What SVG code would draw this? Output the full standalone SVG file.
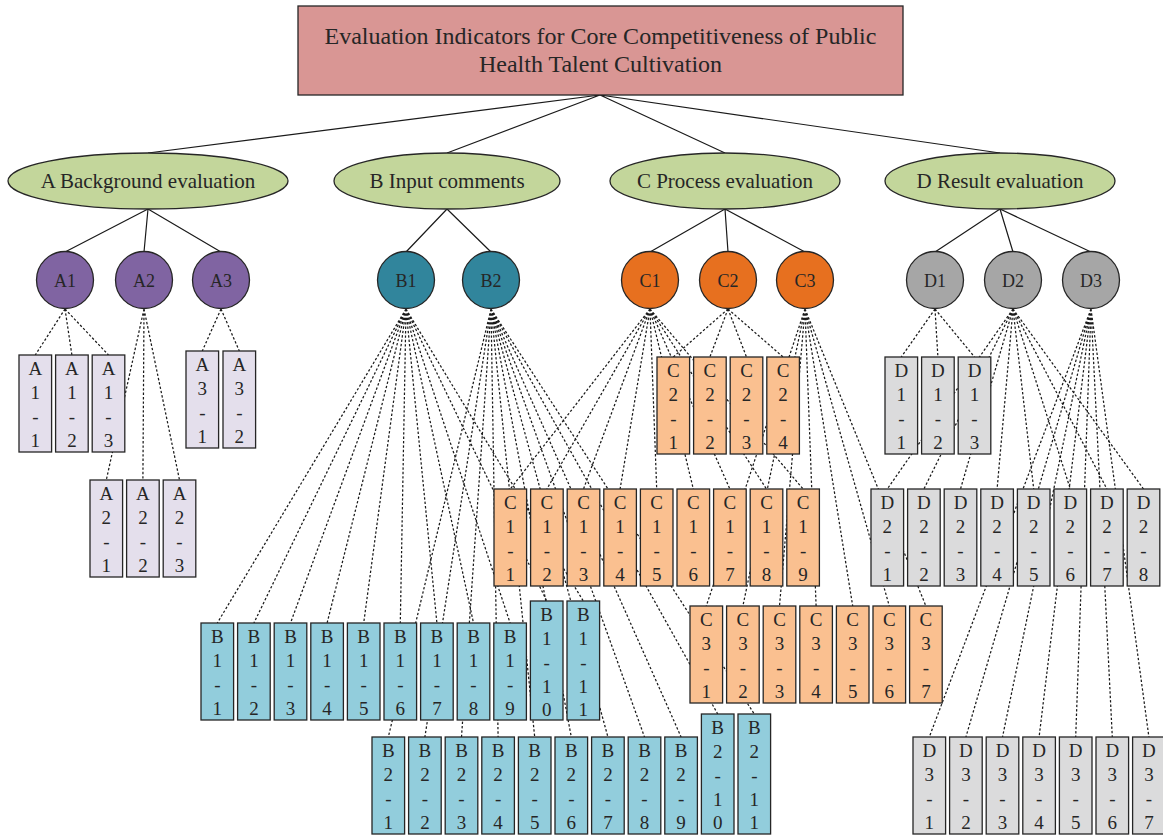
<svg xmlns="http://www.w3.org/2000/svg" width="1163" height="837" viewBox="0 0 1163 837">
<style>
text{font-family:"Liberation Serif","Times New Roman",serif;fill:#262626;text-anchor:middle}
.sol{stroke:#1a1a1a;stroke-width:1.2;fill:none}
.d{stroke:#1a1a1a;stroke-width:1.25;fill:none;stroke-dasharray:2.4 2}
.st{stroke:#262626;stroke-width:1.3}
.ti{fill:#d99694}
.el{fill:#c3d69b}
.ca{fill:#8064a2}.cb{fill:#31859c}.cc{fill:#e7701f}.cd{fill:#a6a6a6}
.ra{fill:#e4dfec}.rb{fill:#92cddc}.rc{fill:#fac090}.rd{fill:#dbdbdc}
.t1{font-size:24px}.t2{font-size:21px}.t3{font-size:18px}.t4{font-size:19px}
</style>
<rect width="1163" height="837" fill="#fff"/>
<g id="connectors">
<path class="sol" d="M600,95L148,153M600,95L447,153M600,95L725,153M600,95L1000,153"/>
<path class="sol" d="M148,209L65,252M148,209L144,252M148,209L221,252M447,209L406,252M447,209L491,252M725,209L650,252M725,209L728,252M725,209L805,252M1000,209L935,252M1000,209L1013,252M1000,209L1091,252"/>
<path class="d" d="M65,309L35.3,355M65,309L71.9,355M65,309L108.5,355"/>
<path class="d" d="M144,309L106.3,480M144,309L142.9,480M144,309L179.5,480"/>
<path class="d" d="M221,309L202.3,351M221,309L239.3,351"/>
<path class="d" d="M406,309L217.3,623M406,309L253.9,623M406,309L290.5,623M406,309L327.1,623M406,309L363.7,623M406,309L400.3,623M406,309L436.9,623M406,309L473.5,623M406,309L510.1,623M406,309L546.7,601M406,309L583.3,601"/>
<path class="d" d="M491,309L388.3,737M491,309L424.9,737M491,309L461.5,737M491,309L498.1,737M491,309L534.7,737M491,309L571.3,737M491,309L607.9,737M491,309L644.5,737M491,309L681.1,737M491,309L717.7,714M491,309L754.3,714"/>
<path class="d" d="M650,309L510.3,489M650,309L546.9,489M650,309L583.5,489M650,309L620.1,489M650,309L656.7,489M650,309L693.3,489M650,309L729.9,489M650,309L766.5,489M650,309L803.1,489"/>
<path class="d" d="M728,309L673.3,357M728,309L709.9,357M728,309L746.5,357M728,309L783.1,357"/>
<path class="d" d="M805,309L706.3,606M805,309L742.9,606M805,309L779.5,606M805,309L816.1,606M805,309L852.7,606M805,309L889.3,606M805,309L925.9,606"/>
<path class="d" d="M935,309L901.3,357M935,309L937.9,357M935,309L974.5,357"/>
<path class="d" d="M1013,309L887.3,489M1013,309L923.9,489M1013,309L960.5,489M1013,309L997.1,489M1013,309L1033.7,489M1013,309L1070.3,489M1013,309L1106.9,489M1013,309L1143.5,489"/>
<path class="d" d="M1091,309L929.3,737M1091,309L965.9,737M1091,309L1002.5,737M1091,309L1039.1,737M1091,309L1075.7,737M1091,309L1112.3,737M1091,309L1148.9,737"/>
</g>
<g id="root"><rect class="ti st" x="298" y="6" width="605" height="89"/><text class="t1" x="600.5" y="44">Evaluation Indicators for Core Competitiveness of Public</text><text class="t1" x="600.5" y="72">Health Talent Cultivation</text></g>
<g id="A"><ellipse class="el st" cx="148" cy="181" rx="140" ry="28"/><text class="t2" x="148" y="188">A Background evaluation</text></g>
<g id="B"><ellipse class="el st" cx="447" cy="181" rx="113" ry="28"/><text class="t2" x="447" y="188">B Input comments</text></g>
<g id="C"><ellipse class="el st" cx="725" cy="181" rx="115" ry="28"/><text class="t2" x="725" y="188">C Process evaluation</text></g>
<g id="D"><ellipse class="el st" cx="1000" cy="181" rx="115" ry="28"/><text class="t2" x="1000" y="188">D Result evaluation</text></g>
<g id="A1"><circle class="ca st" cx="65" cy="280" r="28.5"/><text class="t3" x="65" y="286.5">A1</text></g>
<g id="A2"><circle class="ca st" cx="144" cy="280" r="28.5"/><text class="t3" x="144" y="286.5">A2</text></g>
<g id="A3"><circle class="ca st" cx="221" cy="280" r="28.5"/><text class="t3" x="221" y="286.5">A3</text></g>
<g id="B1"><circle class="cb st" cx="406" cy="280" r="28.5"/><text class="t3" x="406" y="286.5">B1</text></g>
<g id="B2"><circle class="cb st" cx="491" cy="280" r="28.5"/><text class="t3" x="491" y="286.5">B2</text></g>
<g id="C1"><circle class="cc st" cx="650" cy="280" r="28.5"/><text class="t3" x="650" y="286.5">C1</text></g>
<g id="C2"><circle class="cc st" cx="728" cy="280" r="28.5"/><text class="t3" x="728" y="286.5">C2</text></g>
<g id="C3"><circle class="cc st" cx="805" cy="280" r="28.5"/><text class="t3" x="805" y="286.5">C3</text></g>
<g id="D1"><circle class="cd st" cx="935" cy="280" r="28.5"/><text class="t3" x="935" y="286.5">D1</text></g>
<g id="D2"><circle class="cd st" cx="1013" cy="280" r="28.5"/><text class="t3" x="1013" y="286.5">D2</text></g>
<g id="D3"><circle class="cd st" cx="1091" cy="280" r="28.5"/><text class="t3" x="1091" y="286.5">D3</text></g>

<g id="A1-1"><rect class="ra st" x="19" y="355" width="32.6" height="97"/><text class="t4" y="375"><tspan x="35.3">A</tspan><tspan x="35.3" dy="24">1</tspan><tspan x="35.3" dy="24">-</tspan><tspan x="35.3" dy="24">1</tspan></text></g>
<g id="A1-2"><rect class="ra st" x="55.6" y="355" width="32.6" height="97"/><text class="t4" y="375"><tspan x="71.9">A</tspan><tspan x="71.9" dy="24">1</tspan><tspan x="71.9" dy="24">-</tspan><tspan x="71.9" dy="24">2</tspan></text></g>
<g id="A1-3"><rect class="ra st" x="92.2" y="355" width="32.6" height="97"/><text class="t4" y="375"><tspan x="108.5">A</tspan><tspan x="108.5" dy="24">1</tspan><tspan x="108.5" dy="24">-</tspan><tspan x="108.5" dy="24">3</tspan></text></g>
<g id="A2-1"><rect class="ra st" x="90" y="480" width="32.6" height="97"/><text class="t4" y="500"><tspan x="106.3">A</tspan><tspan x="106.3" dy="24">2</tspan><tspan x="106.3" dy="24">-</tspan><tspan x="106.3" dy="24">1</tspan></text></g>
<g id="A2-2"><rect class="ra st" x="126.6" y="480" width="32.6" height="97"/><text class="t4" y="500"><tspan x="142.9">A</tspan><tspan x="142.9" dy="24">2</tspan><tspan x="142.9" dy="24">-</tspan><tspan x="142.9" dy="24">2</tspan></text></g>
<g id="A2-3"><rect class="ra st" x="163.2" y="480" width="32.6" height="97"/><text class="t4" y="500"><tspan x="179.5">A</tspan><tspan x="179.5" dy="24">2</tspan><tspan x="179.5" dy="24">-</tspan><tspan x="179.5" dy="24">3</tspan></text></g>
<g id="A3-1"><rect class="ra st" x="186" y="351" width="32.6" height="97"/><text class="t4" y="371"><tspan x="202.3">A</tspan><tspan x="202.3" dy="24">3</tspan><tspan x="202.3" dy="24">-</tspan><tspan x="202.3" dy="24">1</tspan></text></g>
<g id="A3-2"><rect class="ra st" x="223" y="351" width="32.6" height="97"/><text class="t4" y="371"><tspan x="239.3">A</tspan><tspan x="239.3" dy="24">3</tspan><tspan x="239.3" dy="24">-</tspan><tspan x="239.3" dy="24">2</tspan></text></g>

<g id="B1-1"><rect class="rb st" x="201" y="623" width="32.6" height="97"/><text class="t4" y="643"><tspan x="217.3">B</tspan><tspan x="217.3" dy="24">1</tspan><tspan x="217.3" dy="24">-</tspan><tspan x="217.3" dy="24">1</tspan></text></g>
<g id="B1-2"><rect class="rb st" x="237.6" y="623" width="32.6" height="97"/><text class="t4" y="643"><tspan x="253.9">B</tspan><tspan x="253.9" dy="24">1</tspan><tspan x="253.9" dy="24">-</tspan><tspan x="253.9" dy="24">2</tspan></text></g>
<g id="B1-3"><rect class="rb st" x="274.2" y="623" width="32.6" height="97"/><text class="t4" y="643"><tspan x="290.5">B</tspan><tspan x="290.5" dy="24">1</tspan><tspan x="290.5" dy="24">-</tspan><tspan x="290.5" dy="24">3</tspan></text></g>
<g id="B1-4"><rect class="rb st" x="310.8" y="623" width="32.6" height="97"/><text class="t4" y="643"><tspan x="327.1">B</tspan><tspan x="327.1" dy="24">1</tspan><tspan x="327.1" dy="24">-</tspan><tspan x="327.1" dy="24">4</tspan></text></g>
<g id="B1-5"><rect class="rb st" x="347.4" y="623" width="32.6" height="97"/><text class="t4" y="643"><tspan x="363.7">B</tspan><tspan x="363.7" dy="24">1</tspan><tspan x="363.7" dy="24">-</tspan><tspan x="363.7" dy="24">5</tspan></text></g>
<g id="B1-6"><rect class="rb st" x="384" y="623" width="32.6" height="97"/><text class="t4" y="643"><tspan x="400.3">B</tspan><tspan x="400.3" dy="24">1</tspan><tspan x="400.3" dy="24">-</tspan><tspan x="400.3" dy="24">6</tspan></text></g>
<g id="B1-7"><rect class="rb st" x="420.6" y="623" width="32.6" height="97"/><text class="t4" y="643"><tspan x="436.9">B</tspan><tspan x="436.9" dy="24">1</tspan><tspan x="436.9" dy="24">-</tspan><tspan x="436.9" dy="24">7</tspan></text></g>
<g id="B1-8"><rect class="rb st" x="457.2" y="623" width="32.6" height="97"/><text class="t4" y="643"><tspan x="473.5">B</tspan><tspan x="473.5" dy="24">1</tspan><tspan x="473.5" dy="24">-</tspan><tspan x="473.5" dy="24">8</tspan></text></g>
<g id="B1-9"><rect class="rb st" x="493.8" y="623" width="32.6" height="97"/><text class="t4" y="643"><tspan x="510.1">B</tspan><tspan x="510.1" dy="24">1</tspan><tspan x="510.1" dy="24">-</tspan><tspan x="510.1" dy="24">9</tspan></text></g>
<g id="B1-10"><rect class="rb st" x="530.4" y="601" width="32.6" height="119"/><text class="t4" y="621"><tspan x="546.7">B</tspan><tspan x="546.7" dy="24">1</tspan><tspan x="546.7" dy="24">-</tspan><tspan x="546.7" dy="24">1</tspan><tspan x="546.7" dy="23">0</tspan></text></g>
<g id="B1-11"><rect class="rb st" x="567" y="601" width="32.6" height="119"/><text class="t4" y="621"><tspan x="583.3">B</tspan><tspan x="583.3" dy="24">1</tspan><tspan x="583.3" dy="24">-</tspan><tspan x="583.3" dy="24">1</tspan><tspan x="583.3" dy="23">1</tspan></text></g>

<g id="B2-1"><rect class="rb st" x="372" y="737" width="32.6" height="97"/><text class="t4" y="757"><tspan x="388.3">B</tspan><tspan x="388.3" dy="24">2</tspan><tspan x="388.3" dy="24">-</tspan><tspan x="388.3" dy="24">1</tspan></text></g>
<g id="B2-2"><rect class="rb st" x="408.6" y="737" width="32.6" height="97"/><text class="t4" y="757"><tspan x="424.9">B</tspan><tspan x="424.9" dy="24">2</tspan><tspan x="424.9" dy="24">-</tspan><tspan x="424.9" dy="24">2</tspan></text></g>
<g id="B2-3"><rect class="rb st" x="445.2" y="737" width="32.6" height="97"/><text class="t4" y="757"><tspan x="461.5">B</tspan><tspan x="461.5" dy="24">2</tspan><tspan x="461.5" dy="24">-</tspan><tspan x="461.5" dy="24">3</tspan></text></g>
<g id="B2-4"><rect class="rb st" x="481.8" y="737" width="32.6" height="97"/><text class="t4" y="757"><tspan x="498.1">B</tspan><tspan x="498.1" dy="24">2</tspan><tspan x="498.1" dy="24">-</tspan><tspan x="498.1" dy="24">4</tspan></text></g>
<g id="B2-5"><rect class="rb st" x="518.4" y="737" width="32.6" height="97"/><text class="t4" y="757"><tspan x="534.7">B</tspan><tspan x="534.7" dy="24">2</tspan><tspan x="534.7" dy="24">-</tspan><tspan x="534.7" dy="24">5</tspan></text></g>
<g id="B2-6"><rect class="rb st" x="555" y="737" width="32.6" height="97"/><text class="t4" y="757"><tspan x="571.3">B</tspan><tspan x="571.3" dy="24">2</tspan><tspan x="571.3" dy="24">-</tspan><tspan x="571.3" dy="24">6</tspan></text></g>
<g id="B2-7"><rect class="rb st" x="591.6" y="737" width="32.6" height="97"/><text class="t4" y="757"><tspan x="607.9">B</tspan><tspan x="607.9" dy="24">2</tspan><tspan x="607.9" dy="24">-</tspan><tspan x="607.9" dy="24">7</tspan></text></g>
<g id="B2-8"><rect class="rb st" x="628.2" y="737" width="32.6" height="97"/><text class="t4" y="757"><tspan x="644.5">B</tspan><tspan x="644.5" dy="24">2</tspan><tspan x="644.5" dy="24">-</tspan><tspan x="644.5" dy="24">8</tspan></text></g>
<g id="B2-9"><rect class="rb st" x="664.8" y="737" width="32.6" height="97"/><text class="t4" y="757"><tspan x="681.1">B</tspan><tspan x="681.1" dy="24">2</tspan><tspan x="681.1" dy="24">-</tspan><tspan x="681.1" dy="24">9</tspan></text></g>
<g id="B2-10"><rect class="rb st" x="701.4" y="714" width="32.6" height="120"/><text class="t4" y="734"><tspan x="717.7">B</tspan><tspan x="717.7" dy="24">2</tspan><tspan x="717.7" dy="24">-</tspan><tspan x="717.7" dy="24">1</tspan><tspan x="717.7" dy="23">0</tspan></text></g>
<g id="B2-11"><rect class="rb st" x="738" y="714" width="32.6" height="120"/><text class="t4" y="734"><tspan x="754.3">B</tspan><tspan x="754.3" dy="24">2</tspan><tspan x="754.3" dy="24">-</tspan><tspan x="754.3" dy="24">1</tspan><tspan x="754.3" dy="23">1</tspan></text></g>

<g id="C1-1"><rect class="rc st" x="494" y="489" width="32.6" height="97"/><text class="t4" y="509"><tspan x="510.3">C</tspan><tspan x="510.3" dy="24">1</tspan><tspan x="510.3" dy="24">-</tspan><tspan x="510.3" dy="24">1</tspan></text></g>
<g id="C1-2"><rect class="rc st" x="530.6" y="489" width="32.6" height="97"/><text class="t4" y="509"><tspan x="546.9">C</tspan><tspan x="546.9" dy="24">1</tspan><tspan x="546.9" dy="24">-</tspan><tspan x="546.9" dy="24">2</tspan></text></g>
<g id="C1-3"><rect class="rc st" x="567.2" y="489" width="32.6" height="97"/><text class="t4" y="509"><tspan x="583.5">C</tspan><tspan x="583.5" dy="24">1</tspan><tspan x="583.5" dy="24">-</tspan><tspan x="583.5" dy="24">3</tspan></text></g>
<g id="C1-4"><rect class="rc st" x="603.8" y="489" width="32.6" height="97"/><text class="t4" y="509"><tspan x="620.1">C</tspan><tspan x="620.1" dy="24">1</tspan><tspan x="620.1" dy="24">-</tspan><tspan x="620.1" dy="24">4</tspan></text></g>
<g id="C1-5"><rect class="rc st" x="640.4" y="489" width="32.6" height="97"/><text class="t4" y="509"><tspan x="656.7">C</tspan><tspan x="656.7" dy="24">1</tspan><tspan x="656.7" dy="24">-</tspan><tspan x="656.7" dy="24">5</tspan></text></g>
<g id="C1-6"><rect class="rc st" x="677" y="489" width="32.6" height="97"/><text class="t4" y="509"><tspan x="693.3">C</tspan><tspan x="693.3" dy="24">1</tspan><tspan x="693.3" dy="24">-</tspan><tspan x="693.3" dy="24">6</tspan></text></g>
<g id="C1-7"><rect class="rc st" x="713.6" y="489" width="32.6" height="97"/><text class="t4" y="509"><tspan x="729.9">C</tspan><tspan x="729.9" dy="24">1</tspan><tspan x="729.9" dy="24">-</tspan><tspan x="729.9" dy="24">7</tspan></text></g>
<g id="C1-8"><rect class="rc st" x="750.2" y="489" width="32.6" height="97"/><text class="t4" y="509"><tspan x="766.5">C</tspan><tspan x="766.5" dy="24">1</tspan><tspan x="766.5" dy="24">-</tspan><tspan x="766.5" dy="24">8</tspan></text></g>
<g id="C1-9"><rect class="rc st" x="786.8" y="489" width="32.6" height="97"/><text class="t4" y="509"><tspan x="803.1">C</tspan><tspan x="803.1" dy="24">1</tspan><tspan x="803.1" dy="24">-</tspan><tspan x="803.1" dy="24">9</tspan></text></g>

<g id="C2-1"><rect class="rc st" x="657" y="357" width="32.6" height="97"/><text class="t4" y="377"><tspan x="673.3">C</tspan><tspan x="673.3" dy="24">2</tspan><tspan x="673.3" dy="24">-</tspan><tspan x="673.3" dy="24">1</tspan></text></g>
<g id="C2-2"><rect class="rc st" x="693.6" y="357" width="32.6" height="97"/><text class="t4" y="377"><tspan x="709.9">C</tspan><tspan x="709.9" dy="24">2</tspan><tspan x="709.9" dy="24">-</tspan><tspan x="709.9" dy="24">2</tspan></text></g>
<g id="C2-3"><rect class="rc st" x="730.2" y="357" width="32.6" height="97"/><text class="t4" y="377"><tspan x="746.5">C</tspan><tspan x="746.5" dy="24">2</tspan><tspan x="746.5" dy="24">-</tspan><tspan x="746.5" dy="24">3</tspan></text></g>
<g id="C2-4"><rect class="rc st" x="766.8" y="357" width="32.6" height="97"/><text class="t4" y="377"><tspan x="783.1">C</tspan><tspan x="783.1" dy="24">2</tspan><tspan x="783.1" dy="24">-</tspan><tspan x="783.1" dy="24">4</tspan></text></g>

<g id="C3-1"><rect class="rc st" x="690" y="606" width="32.6" height="97"/><text class="t4" y="626"><tspan x="706.3">C</tspan><tspan x="706.3" dy="24">3</tspan><tspan x="706.3" dy="24">-</tspan><tspan x="706.3" dy="24">1</tspan></text></g>
<g id="C3-2"><rect class="rc st" x="726.6" y="606" width="32.6" height="97"/><text class="t4" y="626"><tspan x="742.9">C</tspan><tspan x="742.9" dy="24">3</tspan><tspan x="742.9" dy="24">-</tspan><tspan x="742.9" dy="24">2</tspan></text></g>
<g id="C3-3"><rect class="rc st" x="763.2" y="606" width="32.6" height="97"/><text class="t4" y="626"><tspan x="779.5">C</tspan><tspan x="779.5" dy="24">3</tspan><tspan x="779.5" dy="24">-</tspan><tspan x="779.5" dy="24">3</tspan></text></g>
<g id="C3-4"><rect class="rc st" x="799.8" y="606" width="32.6" height="97"/><text class="t4" y="626"><tspan x="816.1">C</tspan><tspan x="816.1" dy="24">3</tspan><tspan x="816.1" dy="24">-</tspan><tspan x="816.1" dy="24">4</tspan></text></g>
<g id="C3-5"><rect class="rc st" x="836.4" y="606" width="32.6" height="97"/><text class="t4" y="626"><tspan x="852.7">C</tspan><tspan x="852.7" dy="24">3</tspan><tspan x="852.7" dy="24">-</tspan><tspan x="852.7" dy="24">5</tspan></text></g>
<g id="C3-6"><rect class="rc st" x="873" y="606" width="32.6" height="97"/><text class="t4" y="626"><tspan x="889.3">C</tspan><tspan x="889.3" dy="24">3</tspan><tspan x="889.3" dy="24">-</tspan><tspan x="889.3" dy="24">6</tspan></text></g>
<g id="C3-7"><rect class="rc st" x="909.6" y="606" width="32.6" height="97"/><text class="t4" y="626"><tspan x="925.9">C</tspan><tspan x="925.9" dy="24">3</tspan><tspan x="925.9" dy="24">-</tspan><tspan x="925.9" dy="24">7</tspan></text></g>

<g id="D1-1"><rect class="rd st" x="885" y="357" width="32.6" height="97"/><text class="t4" y="377"><tspan x="901.3">D</tspan><tspan x="901.3" dy="24">1</tspan><tspan x="901.3" dy="24">-</tspan><tspan x="901.3" dy="24">1</tspan></text></g>
<g id="D1-2"><rect class="rd st" x="921.6" y="357" width="32.6" height="97"/><text class="t4" y="377"><tspan x="937.9">D</tspan><tspan x="937.9" dy="24">1</tspan><tspan x="937.9" dy="24">-</tspan><tspan x="937.9" dy="24">2</tspan></text></g>
<g id="D1-3"><rect class="rd st" x="958.2" y="357" width="32.6" height="97"/><text class="t4" y="377"><tspan x="974.5">D</tspan><tspan x="974.5" dy="24">1</tspan><tspan x="974.5" dy="24">-</tspan><tspan x="974.5" dy="24">3</tspan></text></g>

<g id="D2-1"><rect class="rd st" x="871" y="489" width="32.6" height="97"/><text class="t4" y="509"><tspan x="887.3">D</tspan><tspan x="887.3" dy="24">2</tspan><tspan x="887.3" dy="24">-</tspan><tspan x="887.3" dy="24">1</tspan></text></g>
<g id="D2-2"><rect class="rd st" x="907.6" y="489" width="32.6" height="97"/><text class="t4" y="509"><tspan x="923.9">D</tspan><tspan x="923.9" dy="24">2</tspan><tspan x="923.9" dy="24">-</tspan><tspan x="923.9" dy="24">2</tspan></text></g>
<g id="D2-3"><rect class="rd st" x="944.2" y="489" width="32.6" height="97"/><text class="t4" y="509"><tspan x="960.5">D</tspan><tspan x="960.5" dy="24">2</tspan><tspan x="960.5" dy="24">-</tspan><tspan x="960.5" dy="24">3</tspan></text></g>
<g id="D2-4"><rect class="rd st" x="980.8" y="489" width="32.6" height="97"/><text class="t4" y="509"><tspan x="997.1">D</tspan><tspan x="997.1" dy="24">2</tspan><tspan x="997.1" dy="24">-</tspan><tspan x="997.1" dy="24">4</tspan></text></g>
<g id="D2-5"><rect class="rd st" x="1017.4" y="489" width="32.6" height="97"/><text class="t4" y="509"><tspan x="1033.7">D</tspan><tspan x="1033.7" dy="24">2</tspan><tspan x="1033.7" dy="24">-</tspan><tspan x="1033.7" dy="24">5</tspan></text></g>
<g id="D2-6"><rect class="rd st" x="1054" y="489" width="32.6" height="97"/><text class="t4" y="509"><tspan x="1070.3">D</tspan><tspan x="1070.3" dy="24">2</tspan><tspan x="1070.3" dy="24">-</tspan><tspan x="1070.3" dy="24">6</tspan></text></g>
<g id="D2-7"><rect class="rd st" x="1090.6" y="489" width="32.6" height="97"/><text class="t4" y="509"><tspan x="1106.9">D</tspan><tspan x="1106.9" dy="24">2</tspan><tspan x="1106.9" dy="24">-</tspan><tspan x="1106.9" dy="24">7</tspan></text></g>
<g id="D2-8"><rect class="rd st" x="1127.2" y="489" width="32.6" height="97"/><text class="t4" y="509"><tspan x="1143.5">D</tspan><tspan x="1143.5" dy="24">2</tspan><tspan x="1143.5" dy="24">-</tspan><tspan x="1143.5" dy="24">8</tspan></text></g>

<g id="D3-1"><rect class="rd st" x="913" y="737" width="32.6" height="97"/><text class="t4" y="757"><tspan x="929.3">D</tspan><tspan x="929.3" dy="24">3</tspan><tspan x="929.3" dy="24">-</tspan><tspan x="929.3" dy="24">1</tspan></text></g>
<g id="D3-2"><rect class="rd st" x="949.6" y="737" width="32.6" height="97"/><text class="t4" y="757"><tspan x="965.9">D</tspan><tspan x="965.9" dy="24">3</tspan><tspan x="965.9" dy="24">-</tspan><tspan x="965.9" dy="24">2</tspan></text></g>
<g id="D3-3"><rect class="rd st" x="986.2" y="737" width="32.6" height="97"/><text class="t4" y="757"><tspan x="1002.5">D</tspan><tspan x="1002.5" dy="24">3</tspan><tspan x="1002.5" dy="24">-</tspan><tspan x="1002.5" dy="24">3</tspan></text></g>
<g id="D3-4"><rect class="rd st" x="1022.8" y="737" width="32.6" height="97"/><text class="t4" y="757"><tspan x="1039.1">D</tspan><tspan x="1039.1" dy="24">3</tspan><tspan x="1039.1" dy="24">-</tspan><tspan x="1039.1" dy="24">4</tspan></text></g>
<g id="D3-5"><rect class="rd st" x="1059.4" y="737" width="32.6" height="97"/><text class="t4" y="757"><tspan x="1075.7">D</tspan><tspan x="1075.7" dy="24">3</tspan><tspan x="1075.7" dy="24">-</tspan><tspan x="1075.7" dy="24">5</tspan></text></g>
<g id="D3-6"><rect class="rd st" x="1096" y="737" width="32.6" height="97"/><text class="t4" y="757"><tspan x="1112.3">D</tspan><tspan x="1112.3" dy="24">3</tspan><tspan x="1112.3" dy="24">-</tspan><tspan x="1112.3" dy="24">6</tspan></text></g>
<g id="D3-7"><rect class="rd st" x="1132.6" y="737" width="32.6" height="97"/><text class="t4" y="757"><tspan x="1148.9">D</tspan><tspan x="1148.9" dy="24">3</tspan><tspan x="1148.9" dy="24">-</tspan><tspan x="1148.9" dy="24">7</tspan></text></g>
</svg>
